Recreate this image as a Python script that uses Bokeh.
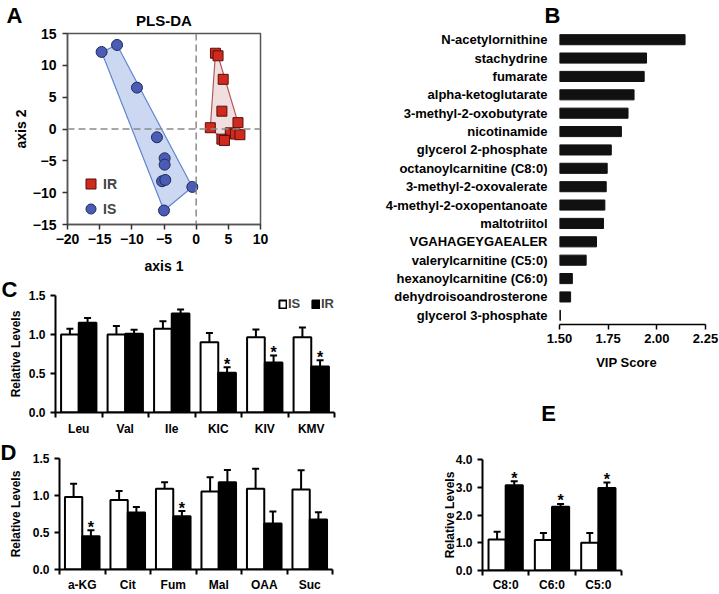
import math
from bokeh.plotting import figure
from bokeh.layouts import row, column
from bokeh.models import (Range1d, FactorRange, FixedTicker, PrintfTickFormatter, Span, Label,
                          Legend, LegendItem, ColumnDataSource, Whisker, TeeHead)
from bokeh.core.properties import value
from bokeh.embed import file_html
from bokeh.resources import INLINE

FONT = "Liberation Sans"

# ---------------- Panel A data (PLS-DA scores) ----------------
is_x = [-14.7, -12.3, -9.2, -6.1, -4.9, -4.9, -5.3, -4.8, -0.6, -5.0]
is_y = [12.1, 13.2, 6.5, -1.3, -4.6, -5.6, -8.2, -8.0, -9.1, -12.8]
ir_x = [3.0, 3.4, 4.2, 4.0, 2.2, 6.5, 5.3, 6.1, 6.8, 4.0, 4.4]
ir_y = [11.9, 11.5, 7.8, 2.8, 0.2, 1.0, -0.6, -0.8, -0.9, -1.6, -1.8]
a_xticks = [-20, -15, -10, -5, 0, 5, 10]
a_yticks = [-15, -10, -5, 0, 5, 10, 15]

# ---------------- Panel B data (VIP scores) ----------------
vip_names = ["N-acetylornithine", "stachydrine", "fumarate", "alpha-ketoglutarate",
             "3-methyl-2-oxobutyrate", "nicotinamide", "glycerol 2-phosphate",
             "octanoylcarnitine (C8:0)", "3-methyl-2-oxovalerate", "4-methyl-2-oxopentanoate",
             "maltotriitol", "VGAHAGEYGAEALER", "valerylcarnitine (C5:0)",
             "hexanoylcarnitine (C6:0)", "dehydroisoandrosterone", "glycerol 3-phosphate"]
vip_vals = [2.145, 1.947, 1.935, 1.883, 1.852, 1.818, 1.766, 1.745, 1.740, 1.733,
            1.726, 1.690, 1.637, 1.566, 1.557, 1.505]
b_xticks = [1.50, 1.75, 2.00, 2.25]

# ---------------- Panel C data ----------------
c_cats = ["Leu", "Val", "Ile", "KIC", "KIV", "KMV"]
c_is = [1.00, 1.00, 1.075, 0.90, 0.965, 0.965]
c_is_err = [0.075, 0.11, 0.095, 0.12, 0.10, 0.125]
c_ir = [1.15, 1.01, 1.27, 0.51, 0.64, 0.59]
c_ir_err = [0.06, 0.05, 0.05, 0.07, 0.09, 0.08]
c_sig = [False, False, False, True, True, True]
c_yticks = [0.0, 0.5, 1.0, 1.5]

# ---------------- Panel D data ----------------
d_cats = ["a-KG", "Cit", "Fum", "Mal", "OAA", "Suc"]
d_is = [0.98, 0.94, 1.09, 1.055, 1.09, 1.08]
d_is_err = [0.18, 0.12, 0.09, 0.19, 0.27, 0.26]
d_ir = [0.45, 0.77, 0.72, 1.18, 0.62, 0.675]
d_ir_err = [0.08, 0.075, 0.07, 0.165, 0.165, 0.10]
d_sig = [True, False, True, False, False, False]
d_yticks = [0.0, 0.5, 1.0, 1.5]

# ---------------- Panel E data ----------------
e_cats = ["C8:0", "C6:0", "C5:0"]
e_is = [1.12, 1.10, 1.00]
e_is_err = [0.28, 0.25, 0.35]
e_ir = [3.07, 2.30, 2.97]
e_ir_err = [0.15, 0.10, 0.20]
e_sig = [True, True, True]
e_yticks = [0.0, 1.0, 2.0, 3.0, 4.0]


def convex_hull(xs, ys):
    pts = sorted(zip(xs, ys))

    def cross(o, a, b):
        return (a[0] - o[0]) * (b[1] - o[1]) - (a[1] - o[1]) * (b[0] - o[0])
    lower, upper = [], []
    for pt in pts:
        while len(lower) >= 2 and cross(lower[-2], lower[-1], pt) <= 0:
            lower.pop()
        lower.append(pt)
    for pt in reversed(pts):
        while len(upper) >= 2 and cross(upper[-2], upper[-1], pt) <= 0:
            upper.pop()
        upper.append(pt)
    h = lower[:-1] + upper[:-1]
    return [q[0] for q in h], [q[1] for q in h]


def style_labels(ax, size):
    ax.major_label_text_font = FONT
    ax.major_label_text_font_style = "bold"
    ax.major_label_text_font_size = size
    ax.major_label_text_color = "black"


def add_label(p, place, text, x, y, dx=0, dy=0, size="14px", angle=0.0):
    # labels live in a side panel so that they are not clipped to the frame
    p.add_layout(Label(x=x, y=y, x_offset=dx, y_offset=dy, text=text, text_font=FONT,
                       text_font_style="bold", text_font_size=size, text_align="center",
                       text_baseline="middle", angle=angle, text_color="black"), place)


def base_fig(w, h, xr, yr, bl, br, bt, bb):
    p = figure(width=w, height=h, x_range=xr, y_range=yr, output_backend="svg",
               toolbar_location=None, min_border_left=bl, min_border_right=br,
               min_border_top=bt, min_border_bottom=bb)
    p.frame_align = False
    p.grid.visible = False
    p.background_fill_color = "white"
    p.border_fill_color = "white"
    return p


# ================= Panel A =================
pA = base_fig(353, 275, Range1d(-20, 10), Range1d(-15, 15), 67, 93, 33, 51)
pA.outline_line_color = "#555555"
pA.outline_line_width = 1.5
for ax, ticks in ((pA.xaxis[0], a_xticks), (pA.yaxis[0], a_yticks)):
    ax.ticker = FixedTicker(ticks=ticks)
    ax.axis_line_color = "#555555"
    ax.axis_line_width = 1.5
    ax.major_tick_line_color = "#333333"
    ax.major_tick_line_width = 1.5
    ax.major_tick_out = 5
    ax.major_tick_in = 0
    ax.minor_tick_line_color = None
    style_labels(ax, "14px")
pA.xaxis.major_label_standoff = 4
pA.yaxis.major_label_standoff = 6

pA.add_layout(Span(location=0, dimension="height", line_color="#8a8a8a", line_width=1.5, line_dash="7 4"))
pA.add_layout(Span(location=0, dimension="width", line_color="#8a8a8a", line_width=1.5, line_dash="7 4"))

hx, hy = convex_hull(is_x, is_y)
pA.patch(hx, hy, fill_color="#c6d4f0", fill_alpha=0.9, line_color="#5f86cf", line_width=1.2)
hx, hy = convex_hull(ir_x, ir_y)
pA.patch(hx, hy, fill_color="#efdcdc", fill_alpha=0.9, line_color="#b5585a", line_width=1.2)

r_is = pA.scatter(is_x, is_y, marker="circle", size=11, fill_color="#4a5cb4",
                  line_color="#1f2a60", line_width=1)
r_ir = pA.scatter(ir_x, ir_y, marker="square", size=10, fill_color="#cf2a1e",
                  line_color="#5a0f0a", line_width=1)

legA = Legend(items=[LegendItem(label="IR", renderers=[r_ir]), LegendItem(label="IS", renderers=[r_is])],
              location=(11, 3), glyph_width=25, glyph_height=25, label_standoff=-5, spacing=-2,
              padding=0, margin=0, border_line_color=None, background_fill_alpha=0,
              label_text_font=FONT, label_text_font_style="bold", label_text_font_size="14px")
pA.add_layout(legA, "center")

add_label(pA, "right", "A", -20, 15, dx=-53, dy=18, size="22px")
add_label(pA, "above", "PLS-DA", -5, 15, dx=0, dy=13, size="15px")
add_label(pA, "below", "axis 1", -5, -15, dx=0, dy=-41, size="14px")
add_label(pA, "left", "axis 2", -20, 0, dx=-47, dy=0, size="14px", angle=math.pi / 2)

# ================= Panel B =================
pB = base_fig(366, 375, Range1d(1.5, 2.25), FactorRange(factors=vip_names[::-1]), 206, 14, 30, 51)
pB.outline_line_color = None
pB.hbar(y=vip_names, left=1.5, right=vip_vals, height=0.55, fill_color="#111111", line_color="#111111")
yb = pB.yaxis[0]
yb.axis_line_color = None
yb.major_tick_line_color = None
yb.major_tick_out = 0
yb.major_tick_in = 0
yb.major_label_standoff = 12
style_labels(yb, "13px")
xb = pB.xaxis[0]
xb.ticker = FixedTicker(ticks=b_xticks)
xb.formatter = PrintfTickFormatter(format="%.2f")
xb.axis_line_color = "black"
xb.axis_line_width = 1.5
xb.major_tick_line_width = 1.5
xb.major_tick_out = 5
xb.major_tick_in = 0
xb.minor_tick_line_color = None
xb.major_label_standoff = 4
style_labels(xb, "13px")
add_label(pB, "below", "VIP Score", 1.875, 0, dx=-6, dy=-38, size="13px")
add_label(pB, "left", "B", 1.5, 16, dx=-7, dy=15, size="22px")


# ================= bar panels =================
def bar_panel(cats, is_v, is_e, ir_v, ir_e, sig, yticks, w, h, bl, br, bt, bb, bw, off,
              ylab_dx, xstand):
    n = len(cats)
    ymax = yticks[-1]
    p = base_fig(w, h, Range1d(0, n), Range1d(0, ymax), bl, br, bt, bb)
    p.outline_line_color = None
    centers = [i + 0.5 for i in range(n)]
    x_is = [c - off for c in centers]
    x_ir = [c + off for c in centers]
    s_is = ColumnDataSource(dict(x=x_is, top=is_v, up=[a + b for a, b in zip(is_v, is_e)]))
    s_ir = ColumnDataSource(dict(x=x_ir, top=ir_v, up=[a + b for a, b in zip(ir_v, ir_e)]))
    for s in (s_is, s_ir):
        p.add_layout(Whisker(source=s, base="x", lower="top", upper="up", dimension="height",
                             line_color="black", line_width=2, lower_head=None,
                             upper_head=TeeHead(size=7, line_color="black", line_width=2)))
    r1 = p.vbar(x="x", top="top", bottom=0, width=bw, source=s_is, fill_color="white",
                line_color="black", line_width=2)
    r2 = p.vbar(x="x", top="top", bottom=0, width=bw, source=s_ir, fill_color="black",
                line_color="black", line_width=2)
    sx = [x for x, f in zip(x_ir, sig) if f]
    sy = [a + b for a, b, f in zip(ir_v, ir_e, sig) if f]
    s_star = ColumnDataSource(dict(x=sx, y=sy, t=["*"] * len(sx)))
    p.text(x="x", y="y", text="t", source=s_star, text_font=value(FONT), text_font_style="bold",
           text_font_size="16px", text_align="center", text_baseline="alphabetic", y_offset=-3,
           text_color="black")
    xa = p.xaxis[0]
    xa.ticker = FixedTicker(ticks=centers, minor_ticks=list(range(n + 1)))
    xa.major_label_overrides = {c: lab for c, lab in zip(centers, cats)}
    xa.axis_line_color = "black"
    xa.axis_line_width = 2
    xa.major_tick_out = 0
    xa.major_tick_in = 0
    xa.major_tick_line_color = None
    xa.minor_tick_out = 5
    xa.minor_tick_in = 0
    xa.minor_tick_line_width = 2
    xa.minor_tick_line_color = "black"
    xa.major_label_standoff = xstand
    style_labels(xa, "12px")
    ya = p.yaxis[0]
    ya.ticker = FixedTicker(ticks=yticks)
    ya.formatter = PrintfTickFormatter(format="%.1f")
    ya.axis_line_color = "black"
    ya.axis_line_width = 2
    ya.major_tick_out = 5
    ya.major_tick_in = 0
    ya.major_tick_line_width = 2
    ya.minor_tick_line_color = None
    ya.major_label_standoff = 5
    style_labels(ya, "12px")
    add_label(p, "left", "Relative Levels", 0, ymax / 2, dx=ylab_dx, dy=0, size="12px",
              angle=math.pi / 2)
    return p, r1, r2


pC, c1, c2 = bar_panel(c_cats, c_is, c_is_err, c_ir, c_ir_err, c_sig, c_yticks,
                       353, 163, 55, 19, 20, 26, 0.38, 0.19, -40, 4)
legC = Legend(items=[LegendItem(label="IS", renderers=[c1]), LegendItem(label="IR", renderers=[c2])],
              orientation="horizontal", location=(223, 101), glyph_width=9, glyph_height=10,
              label_height=12, label_standoff=1, spacing=3, padding=0, margin=0,
              border_line_color=None, background_fill_alpha=0, label_text_font=FONT,
              label_text_font_style="bold", label_text_font_size="13px")
pC.add_layout(legC, "center")
add_label(pC, "right", "C", 0, 1.5, dx=-46, dy=6, size="22px")

pD, _, _ = bar_panel(d_cats, d_is, d_is_err, d_ir, d_ir_err, d_sig, d_yticks,
                     353, 156, 59, 21, 20, 24, 0.38, 0.19, -44, 3)
add_label(pD, "right", "D", 0, 1.5, dx=-51, dy=6, size="22px")

pE, _, _ = bar_panel(e_cats, e_is, e_is_err, e_ir, e_ir_err, e_sig, e_yticks,
                     366, 219, 129, 98, 84, 23, 0.37, 0.185, -33, 2)
add_label(pE, "above", "E", 0, 4.0, dx=66, dy=46, size="22px")

layout = row(column(pA, pC, pD), column(pB, pE))
open("out.html", "w").write(file_html(layout, INLINE))
